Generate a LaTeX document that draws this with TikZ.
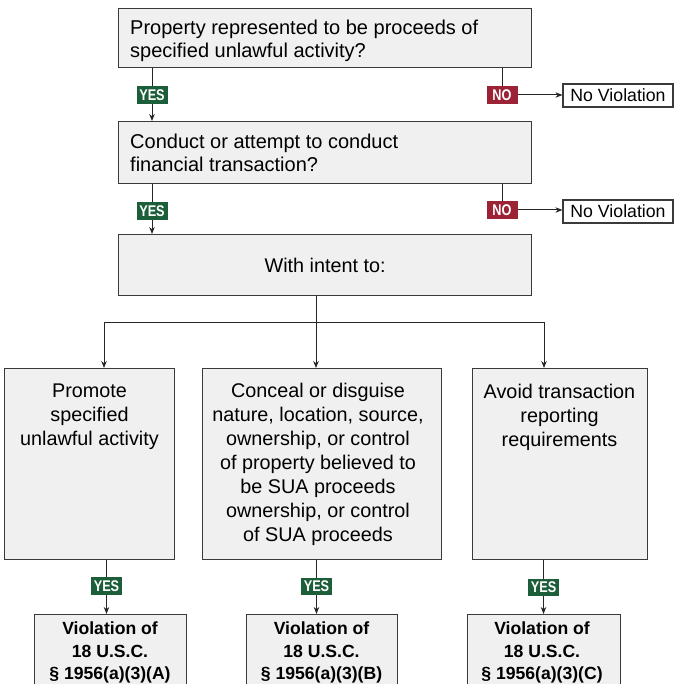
\documentclass[tikz,border=0pt]{standalone}
\usepackage{fontspec}
\setmainfont{Liberation Sans}
\newfontfamily\tagfont{Liberation Sans}[FakeStretch=0.82]
\usetikzlibrary{arrows.meta}
\definecolor{boxfill}{HTML}{F0F0F0}
\definecolor{boxline}{HTML}{3A3A3A}
\definecolor{yesgreen}{HTML}{1D5E3A}
\definecolor{nored}{HTML}{9B2335}

\begin{document}
\begin{tikzpicture}[x=1pt,y=-1pt,
  box/.style={rectangle, draw=boxline, line width=1.2pt, fill=boxfill,
    inner sep=0pt, anchor=north west},
  body/.style={font=\fontsize{19.8}{24}\selectfont},
  bodytext/.style={body, inner sep=0pt},
  asktext/.style={inner sep=0pt, align=left, anchor=north west,
    font=\fontsize{20}{23.2}\selectfont},
  outcome/.style={rectangle, draw=boxline, line width=1.2pt, fill=white,
    inner sep=0pt, minimum width=110pt, minimum height=23pt,
    font=\fontsize{17.7}{20}\selectfont},
  verdict/.style={align=center, anchor=north, inner sep=0pt,
    font=\bfseries\fontsize{17.6}{22.5}\selectfont},
  tag/.style={rectangle, inner sep=0pt, minimum width=31pt,
    minimum height=17.5pt, text=white,
    font=\tagfont\bfseries\fontsize{15.5}{16}\selectfont},
  yes/.style={tag, fill=yesgreen},
  no/.style={tag, fill=nored},
  conn/.style={draw=black!85, line width=1pt},
  arr/.style={conn, -{Stealth[length=7pt,width=5.5pt]}}
]
\useasboundingbox (0,0) rectangle (676,684);
\fill[white] (0,0) rectangle (676,684);
\clip (0,0) rectangle (676,684);

% decision boxes
\node[box, minimum width=413pt, minimum height=59pt] (q1) at (118,8) {};
\node[asktext] (q1t) at (130,20)
  {Property represented to be proceeds of\\specified unlawful activity?};
\node[box, minimum width=413pt, minimum height=62pt] (q2) at (118,121) {};
\node[asktext] (q2t) at (130,133.5)
  {Conduct or attempt to conduct\\financial transaction?};
\node[box, minimum width=413pt, minimum height=61pt, body] (intent) at (118,234)
  {With intent to:};

% outcome boxes for the NO branches
\node[outcome] (nv1) at (618,95.5) {No Violation};
\node[outcome] (nv2) at (618,211.5) {No Violation};

% branch tags
\node[yes] (yes1) at (152,95) {YES};
\node[no]  (no1)  at (502,95) {NO};
\node[yes] (yes2) at (152,211) {YES};
\node[no]  (no2)  at (502,210) {NO};

% purpose boxes
\node[box, minimum width=170pt, minimum height=191pt] (pA) at (4,368) {};
\node[box, minimum width=239pt, minimum height=191pt] (pB) at (202,368) {};
\node[box, minimum width=175pt, minimum height=191pt] (pC) at (472,368) {};
\node[bodytext, align=center, anchor=north] (tA) at (89.5,383.5)
  {Promote\\specified\\unlawful activity};
\node[bodytext, align=center, anchor=north] (tB) at (318,382.5)
  {Conceal or disguise\\nature, location, source,\\ownership, or control\\of property believed to\\be SUA proceeds\\ownership, or control\\of SUA proceeds};
\node[bodytext, align=center, anchor=north] (tC) at (559.5,384)
  {Avoid transaction\\reporting\\requirements};

% tags above the violation boxes
\node[yes] (yesA) at (106.5,586) {YES};
\node[yes] (yesB) at (316.5,586.5) {YES};
\node[yes] (yesC) at (543.5,587.5) {YES};

% violation boxes (run past the lower edge)
\node[box, minimum width=152pt, minimum height=100pt] (vA) at (34,614) {};
\node[box, minimum width=151pt, minimum height=100pt] (vB) at (246,614) {};
\node[box, minimum width=153pt, minimum height=100pt] (vC) at (467,614) {};
\node[verdict] (sA) at (110,622)
  {Violation of\\18 U.S.C.\\\S\ 1956(a)(3)(A)};
\node[verdict] (sB) at (321.5,622)
  {Violation of\\18 U.S.C.\\\S\ 1956(a)(3)(B)};
\node[verdict] (sC) at (542,622)
  {Violation of\\18 U.S.C.\\\S\ 1956(a)(3)(C)};

% connectors: first question
\draw[conn] (q1.south -| yes1) -- (yes1.north);
\draw[arr]  (yes1.south) -- (q2.north -| yes1);
\draw[conn] (q1.south -| no1) -- (no1.north);
\draw[arr]  (no1.east) -- (no1.east -| nv1.west);

% connectors: second question
\draw[conn] (q2.south -| yes2) -- (yes2.north);
\draw[arr]  (yes2.south) -- (intent.north -| yes2);
\draw[conn] (q2.south -| no2) -- (no2.north);
\draw[arr]  (no2.east) -- (no2.east -| nv2.west);

% fan-out to the three purposes
\coordinate (split) at (316,322);
\coordinate (busL) at (104,322);
\coordinate (busR) at (544,322);
\draw[conn] (intent.south -| split) -- (split);
\draw[conn] (busL) -- (busR);
\draw[arr]  (busL) -- (pA.north -| busL);
\draw[arr]  (split) -- (pB.north -| split);
\draw[arr]  (busR) -- (pC.north -| busR);

% purposes to violations
\draw[conn] (pA.south -| yesA) -- (yesA.north);
\draw[arr]  (yesA.south) -- (vA.north -| yesA);
\draw[conn] (pB.south -| yesB) -- (yesB.north);
\draw[arr]  (yesB.south) -- (vB.north -| yesB);
\draw[conn] (pC.south -| yesC) -- (yesC.north);
\draw[arr]  (yesC.south) -- (vC.north -| yesC);
\end{tikzpicture}
\end{document}
